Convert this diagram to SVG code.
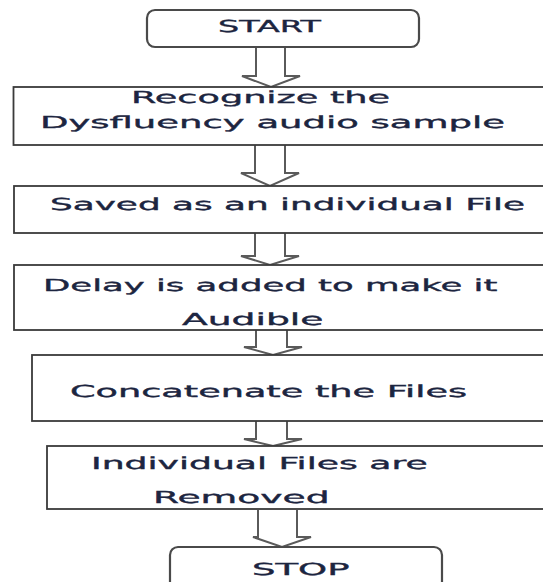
<svg xmlns="http://www.w3.org/2000/svg" width="543" height="582" viewBox="0 0 543 582">
  <style>
    .box { fill: #ffffff; stroke: #3a3a3a; stroke-width: 1.8; }
    .term { fill: #ffffff; stroke: #4a4a4a; stroke-width: 2.2; }
    .arrow { fill: #ffffff; stroke: #5a5a5a; stroke-width: 2; stroke-linejoin: miter; }
    .lbl { font-family: "DejaVu Sans", "Liberation Sans", sans-serif; font-size: 16.5px; fill: #1c2540; stroke: #1c2540; stroke-width: 0.35; text-rendering: geometricPrecision; }
  </style>
  <rect width="543" height="582" fill="#ffffff"/>

  <!-- connectors: hollow block arrows -->
  <g id="connectors">
    <path class="arrow" d="M256,47 V76 H242 L271,87 L300,76 H285 V47"/>
    <path class="arrow" d="M255,145 V173 H241 L270,186 L299,173 H285 V145"/>
    <path class="arrow" d="M255,233 V256 H241 L270,265 L299,256 H285 V233"/>
    <path class="arrow" d="M256,330 V347 H244 L273,355 L302,347 H287 V330"/>
    <path class="arrow" d="M256,421 V439 H244 L273,446 L302,439 H287 V421"/>
    <path class="arrow" d="M258,510 V537 H253 L282,547 L311,537 H297 V510"/>
  </g>

  <!-- labels use a horizontally widened face: translate to the start point, then stretch x -->
  <g id="start">
    <rect class="term" x="147" y="10" width="272" height="37" rx="8"/>
    <text class="lbl" transform="translate(218,32) scale(2.02,1)">START</text>
  </g>

  <g id="recognize">
    <rect class="box" x="13.5" y="87" width="540" height="58"/>
    <text class="lbl" transform="translate(131,103) scale(2.22,1)">Recognize the</text>
    <text class="lbl" transform="translate(40,128) scale(2.24,1)">Dysfluency audio sample</text>
  </g>

  <g id="saved">
    <rect class="box" x="14" y="186" width="540" height="47"/>
    <text class="lbl" transform="translate(50,210) scale(2.17,1)">Saved as an individual File</text>
  </g>

  <g id="delay">
    <rect class="box" x="14" y="265" width="540" height="65"/>
    <text class="lbl" transform="translate(43,291) scale(2.15,1)">Delay is added to make it</text>
    <text class="lbl" transform="translate(182,325) scale(2.28,1)">Audible</text>
  </g>

  <g id="concatenate">
    <rect class="box" x="32" y="355" width="520" height="66"/>
    <text class="lbl" transform="translate(70,397) scale(2.22,1)">Concatenate the Files</text>
  </g>

  <g id="remove">
    <rect class="box" x="47" y="446" width="510" height="63"/>
    <text class="lbl" transform="translate(91,469) scale(2.19,1)">Individual Files are</text>
    <text class="lbl" transform="translate(153,503) scale(2.28,1)">Removed</text>
  </g>

  <g id="stop">
    <rect class="term" x="170" y="547" width="272" height="50" rx="8"/>
    <text class="lbl" transform="translate(252,575) scale(2.24,1)">STOP</text>
  </g>
</svg>
